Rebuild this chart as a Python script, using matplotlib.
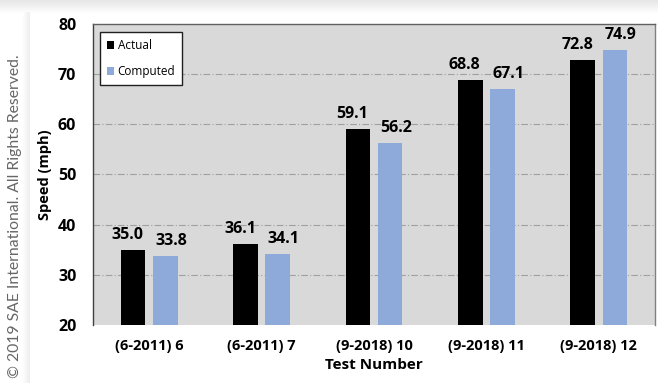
import numpy as np
import matplotlib.pyplot as plt

# speed per test, measured vs. simulated
tests = ['(6-2011) 6', '(6-2011) 7', '(9-2018) 10', '(9-2018) 11', '(9-2018) 12']
actual = [35.0, 36.1, 59.1, 68.8, 72.8]
computed = [33.8, 34.1, 56.2, 67.1, 74.9]

plt.rcParams['font.family'] = ['Open Sans', 'DejaVu Sans']

fig = plt.figure(figsize=(6.58, 3.83), dpi=100)
fig.patch.set_facecolor('white')

# soft page shadow along the top and left edge
shade = fig.add_axes([0, 1 - 14 / 383, 1, 14 / 383])
g = np.linspace(0.90, 1.0, 50).reshape(-1, 1)
shade.imshow(g, cmap='gray', vmin=0, vmax=1, aspect='auto', extent=[0, 1, 1, 0])
shade.axis('off')
side = fig.add_axes([22 / 658, 0, 8 / 658, 1 - 12 / 383])
s = np.linspace(1.0, 0.93, 20).reshape(1, -1)
side.imshow(s, cmap='gray', vmin=0, vmax=1, aspect='auto')
side.axis('off')

ax = fig.add_axes([93 / 658, 58 / 383, 562 / 658, 301 / 383])
ax.set_facecolor('#d9d9d9')

x = np.arange(len(tests))
w = 0.22
off = 0.143
ax.bar(x - off, actual, w, color='black', label='Actual', zorder=3)
ax.bar(x + off, computed, w, color='#8eaadb', label='Computed', zorder=3)

for xi, v in zip(x, actual):
    ax.annotate(f'{v:.1f}', (xi - off, v), xytext=(-4, 5), textcoords='offset points',
                ha='center', va='bottom', fontsize=11.5, fontweight='bold')
for xi, v in zip(x, computed):
    ax.annotate(f'{v:.1f}', (xi + off, v), xytext=(4, 5), textcoords='offset points',
                ha='center', va='bottom', fontsize=11.5, fontweight='bold')

ax.set_xlim(-0.5, 4.5)
ax.set_ylim(20, 80)
ax.set_yticks(range(20, 81, 10))
ax.set_xticks(x)
ax.set_xticklabels(tests)
ax.tick_params(axis='both', length=0)
ax.tick_params(axis='y', pad=12, labelsize=11.5)
ax.tick_params(axis='x', pad=10, labelsize=10.5)
for lab in ax.get_xticklabels() + ax.get_yticklabels():
    lab.set_fontweight('bold')

for yv in range(30, 80, 10):
    ax.axhline(yv, color='#a0a0a0', lw=0.8, ls=(0, (6, 2, 1, 2)), zorder=1)

ax.spines['bottom'].set_visible(False)
ax.spines['left'].set_color('#404040')
ax.spines['top'].set_color('#606060')
ax.spines['right'].set_color('#808080')
for sp in ax.spines.values():
    sp.set_linewidth(1.0)

ax.set_ylabel('Speed (mph)', fontsize=10.5, fontweight='bold', labelpad=4)
ax.set_xlabel('Test Number', fontsize=11, fontweight='bold', labelpad=4)

leg = ax.legend(loc='upper left', bbox_to_anchor=(7 / 562, 1 - 8 / 301), borderaxespad=0,
                fontsize=8.5, frameon=True, fancybox=False, handlelength=0.6,
                handleheight=0.6, handletextpad=0.3, labelspacing=1.1, borderpad=0.6)
leg.get_frame().set_edgecolor('#202020')
leg.get_frame().set_linewidth(1.0)
leg.get_frame().set_facecolor('white')
leg.get_frame().set_alpha(1)

fig.text(15 / 658, 0.435, '\u00a9 2019 SAE International. All Rights Reserved.',
         rotation=90, ha='center', va='center', fontsize=11.3, color='#666666',
         family=['Lato', 'DejaVu Sans'])

fig.savefig('out.png', dpi=100)
